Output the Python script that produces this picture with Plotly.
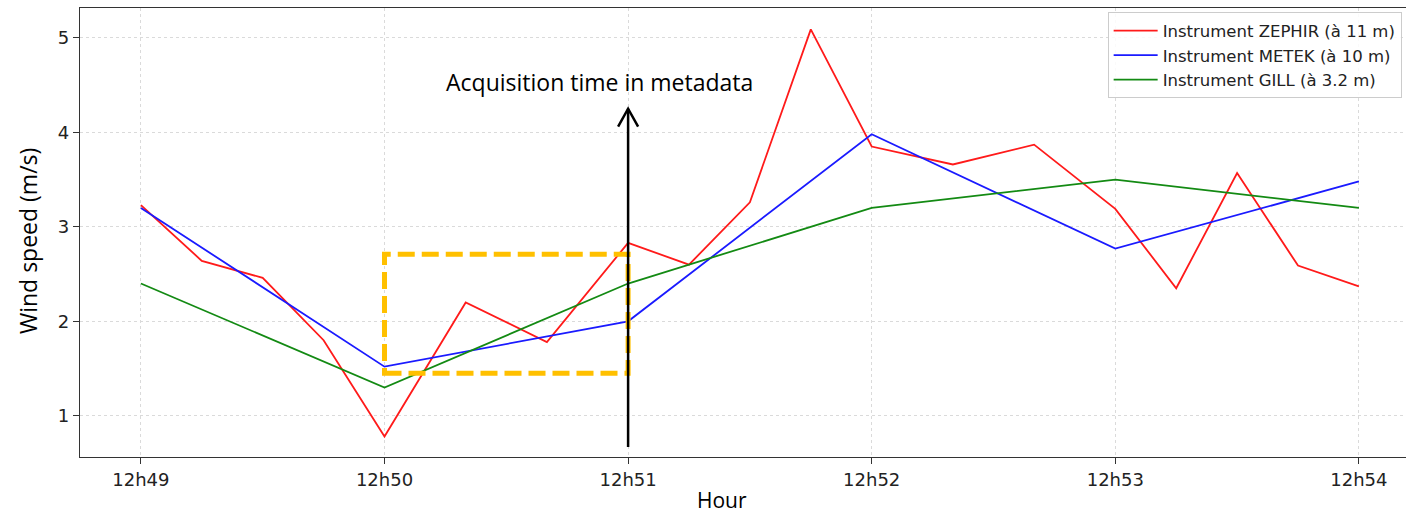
import pandas as pd
import plotly.graph_objects as go

DAY = "2021-01-01 "

# ZEPHIR lidar samples (irregular timestamps)
zephir_times = ["12:49:00", "12:49:15", "12:49:30", "12:49:45", "12:50:00",
                "12:50:20", "12:50:40", "12:51:00", "12:51:15", "12:51:30",
                "12:51:45", "12:52:00", "12:52:20", "12:52:40", "12:53:00",
                "12:53:15", "12:53:30", "12:53:45", "12:54:00"]
zephir_speed = [3.23, 2.64, 2.46, 1.80, 0.78,
                2.20, 1.78, 2.83, 2.60, 3.26,
                5.09, 3.85, 3.66, 3.87, 3.19,
                2.35, 3.57, 2.59, 2.37]

# METEK and GILL one-minute samples
minute_times = ["12:49:00", "12:50:00", "12:51:00", "12:52:00", "12:53:00", "12:54:00"]
metek_speed = [3.20, 1.52, 2.00, 3.98, 2.77, 3.48]
gill_speed = [2.40, 1.30, 2.40, 3.20, 3.50, 3.20]

series_names = ["Instrument ZEPHIR (à 11 m)", "Instrument METEK (à 10 m)",
                "Instrument GILL (à 3.2 m)"]
series_colors = ["#ff1a1a", "#1a1aff", "#138a13"]

# acquisition-time marker and highlighted window
acq_time = "12:51:00"
acq_arrow_bottom, acq_arrow_top = 0.67, 4.25
acq_label = "Acquisition time in metadata"
acq_label_time, acq_label_speed = "12:50:53", 4.53
window_start, window_end = "12:50:00", "12:51:00"
window_low, window_high = 1.45, 2.71

x_start, x_end = "12:48:45", "12:54:11.6"
y_low, y_high = 0.564, 5.316


def ts(t):
    return pd.Timestamp(DAY + t)


fig = go.Figure()
for times, vals, name, color in [
    (zephir_times, zephir_speed, series_names[0], series_colors[0]),
    (minute_times, metek_speed, series_names[1], series_colors[1]),
    (minute_times, gill_speed, series_names[2], series_colors[2]),
]:
    fig.add_trace(go.Scatter(
        x=[ts(t) for t in times], y=vals, mode="lines", name=name,
        line=dict(color=color, width=1.8),
    ))

tick_font = dict(family="DejaVu Sans", size=18, color="#222222")
label_font = dict(family="Open Sans", size=23, color="#000000")

fig.update_layout(
    width=1406, height=513,
    margin=dict(l=80, r=0, t=8, b=56),
    paper_bgcolor="white", plot_bgcolor="white",
    showlegend=True,
    legend=dict(
        x=0.775, y=0.99, xanchor="left", yanchor="top",
        bgcolor="rgba(255,255,255,0.85)", bordercolor="#cccccc", borderwidth=1,
        font=dict(family="DejaVu Sans", size=16.5, color="#222222"),
        tracegroupgap=0, itemwidth=44,
    ),
    xaxis=dict(
        type="date", range=[ts(x_start), ts(x_end)],
        tickvals=[ts(t) for t in minute_times], tickformat="%Hh%M",
        tickfont=tick_font, ticks="outside", ticklen=6, tickcolor="#333333",
        showline=True, linecolor="#333333", linewidth=1.4, mirror=True,
        showgrid=True, gridcolor="#dadada", griddash="dot", gridwidth=1,
        zeroline=False,
    ),
    yaxis=dict(
        range=[y_low, y_high], tickvals=[1, 2, 3, 4, 5],
        tickfont=tick_font, ticks="outside", ticklen=6, tickcolor="#333333",
        showline=True, linecolor="#333333", linewidth=1.4, mirror=False,
        showgrid=True, gridcolor="#dadada", griddash="dot", gridwidth=1,
        zeroline=False,
    ),
)

# highlighted acquisition window
fig.add_shape(
    type="rect", xref="x", yref="y",
    x0=ts(window_start), x1=ts(window_end), y0=window_low, y1=window_high,
    line=dict(color="#FFC000", width=5, dash="17px,7px"),
    fillcolor="rgba(0,0,0,0)", layer="above",
)

# arrow pointing at the acquisition time
fig.add_shape(
    type="line", xref="x", yref="y",
    x0=ts(acq_time), x1=ts(acq_time), y0=acq_arrow_bottom, y1=acq_arrow_top,
    line=dict(color="black", width=2.5), layer="above",
)
fig.add_shape(
    type="path", xref="x", yref="y",
    xsizemode="pixel", ysizemode="pixel",
    xanchor=ts(acq_time), yanchor=acq_arrow_top,
    path="M -10,-18 L 0,0 L 10,-18",
    line=dict(color="black", width=2.5), layer="above",
)

fig.add_annotation(
    x=ts(acq_label_time), y=acq_label_speed, xref="x", yref="y",
    text=acq_label, showarrow=False, font=label_font,
    xanchor="center", yanchor="middle",
)
fig.add_annotation(
    x=-0.0392, y=0.481, xref="paper", yref="paper",
    text="Wind speed (m/s)", textangle=-90, showarrow=False, font=label_font,
    xanchor="center", yanchor="middle",
)
fig.add_annotation(
    x=0.484, y=-0.0958, xref="paper", yref="paper",
    text="Hour", showarrow=False, font=dict(family="Open Sans", size=21, color="#000000"),
    xanchor="center", yanchor="middle",
)

fig.write_html("out.html")
